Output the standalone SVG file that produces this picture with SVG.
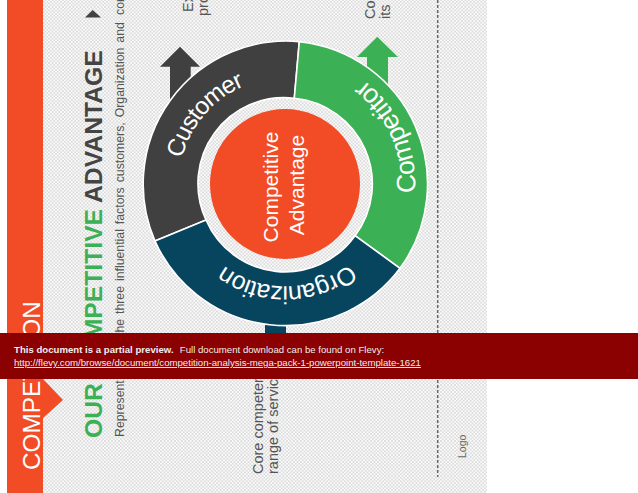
<svg xmlns="http://www.w3.org/2000/svg" width="638" height="493" viewBox="0 0 638 493">
<style>
text{font-family:"Liberation Sans",Arial,sans-serif}
.seg{stroke:#fff;stroke-width:1.6}
.body{fill:#555;font-size:14.500px}
.ring{fill:#fff}
.core{fill:#fff;font-size:21px;text-anchor:middle}
.ban{fill:#eee;font-size:9.650px}
</style>
<defs>
<pattern id="hatch" width="3.500" height="3.500" patternUnits="userSpaceOnUse">
<rect width="3.500" height="3.500" fill="#fbfbfb"/>
<path d="M-1 1L1 -1M0 3.500L3.500 0M2.500 4.500L4.500 2.500M-1 2.500L1 4.500M0 0L3.500 3.500M2.500 -1L4.500 1" stroke="#d4d4d4" stroke-width=".7" fill="none"/>
</pattern>
<path id="pCust" d="M182 158.500A106 106 0 0 1 285 78"/>
<path id="pComp" d="M415 193A130 130 0 0 0 330 62"/>
<path id="pOrg" d="M349 264A102 102 0 0 1 200 240"/>
</defs>
<rect width="638" height="493" fill="#fff"/>
<rect x="43" y="0" width="444" height="493" fill="url(#hatch)"/>
<g id="banner-side">
<path d="M7 0H43V379L63 400L43 418V493H7Z" fill="#F24C27"/>
<text transform="translate(39.500,470) rotate(-90)" fill="#fff" font-size="24.300">COMPETITION</text>
</g>
<g id="title">
<text transform="translate(101.500,438) rotate(-90)" font-size="24.700" font-weight="bold" fill="#3CB054">OUR COMPETITIVE <tspan fill="#444">ADVANTAGE</tspan></text>
<path d="M92.700 10L101 17.500H85Z" fill="#404040"/>
<text transform="translate(124,437) rotate(-90)" fill="#555" font-size="12.300">Represent</text>
<text transform="translate(124,336) rotate(-90)" fill="#555" font-size="12.300" word-spacing="1.500">the three influential factors customers, Organization and</text>
<text transform="translate(124,15) rotate(-90)" fill="#555" font-size="12.300">con</text>
</g>
<path id="divider" d="M437.700 0V477" stroke="#666" stroke-width="1.500" stroke-dasharray="3 2" fill="none"/>
<g id="notes">
<text class="body" transform="translate(193,12) rotate(-90)">Ex</text>
<text class="body" transform="translate(208,16) rotate(-90)">pro</text>
<text class="body" transform="translate(375,19) rotate(-90)">Co</text>
<text class="body" transform="translate(390,19) rotate(-90)">its l</text>
<text class="body" transform="translate(262.500,474) rotate(-90)">Core competen</text>
<text class="body" transform="translate(278,474) rotate(-90)">range of servic</text>
<text transform="translate(466,458) rotate(-90)" fill="#666" font-size="10.500">Logo</text>
</g>
<g id="connectors">
<path d="M180 46.700L200 66.700H190.700V100H170V66.700H160Z" fill="#404040"/>
<path d="M377.300 36.700L398 57H388V100H367V57H357Z" fill="#3CB054"/>
<rect x="265" y="310" width="21" height="25" fill="#07455F"/>
</g>
<g id="node-customer">
<path class="seg" fill="#404040" d="M155 241A143 143 0 0 1 299.300 41.700L294.300 98.300A86 86 0 0 0 206 220Z"/>
<text class="ring" font-size="24.500" letter-spacing="-1"><textPath href="#pCust">Customer</textPath></text>
</g>
<g id="node-competitor">
<path class="seg" fill="#3CB054" d="M299.300 41.700A143 143 0 0 1 400 268.300L355 235.700A86 86 0 0 0 294.300 98.300Z"/>
<text class="ring" font-size="26.500"><textPath href="#pComp">Competitor</textPath></text>
</g>
<g id="node-organization">
<path class="seg" fill="#07455F" d="M400 268.300A143 143 0 0 1 155 241L206 220A86 86 0 0 0 355 235.700Z"/>
<text class="ring" font-size="25" letter-spacing="-.7"><textPath href="#pOrg">Organization</textPath></text>
</g>
<g id="node-core">
<circle cx="285" cy="184" r="75" fill="#F24C27"/>
<text class="core" transform="translate(277.500,187) rotate(-90)">Competitive</text>
<text class="core" transform="translate(304,185) rotate(-90)">Advantage</text>
</g>
<g id="preview-banner">
<rect x="0" y="333" width="638" height="46" fill="#8B0000"/>
<text class="ban" x="14" y="352.700"><tspan font-weight="bold">This document is a partial preview.</tspan> <tspan dx="3.500">Full document download can be found on Flevy:</tspan></text>
<text class="ban" x="14" y="366" text-decoration="underline">http://flevy.com/browse/document/competition-analysis-mega-pack-1-powerpoint-template-1621</text>
</g>
</svg>
